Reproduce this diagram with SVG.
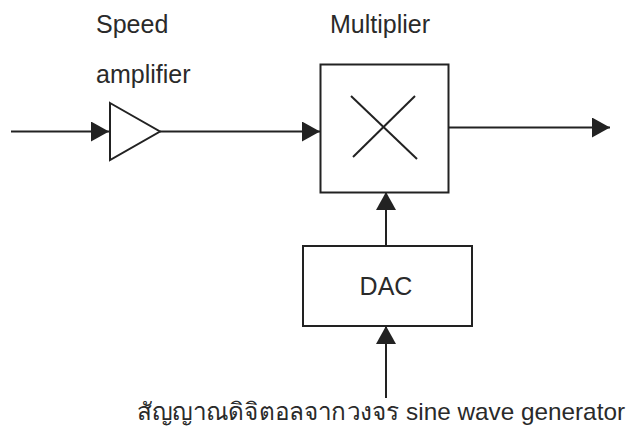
<svg xmlns="http://www.w3.org/2000/svg" width="635" height="433" viewBox="0 0 635 433">
<defs>
<style>
.ln{stroke:#222;stroke-width:2;fill:none}
.bx{stroke:#222;stroke-width:2;fill:#fff}
.t{font-family:"Liberation Sans",Arial,sans-serif;font-size:25px;fill:#2a2a2a}
.s{font-size:24px}
</style>
<marker id="ah" markerUnits="userSpaceOnUse" markerWidth="19" markerHeight="20" refX="18" refY="10" orient="auto" viewBox="0 0 19 20">
<path d="M0,0 L18,10 L0,20 Z" fill="#222"/>
</marker>
</defs>
<rect width="635" height="433" fill="#fff"/>
<g id="connectors">
<line class="ln" x1="11" y1="131.5" x2="109" y2="131.5" marker-end="url(#ah)"/>
<line class="ln" x1="160" y1="131.5" x2="320" y2="131.5" marker-end="url(#ah)"/>
<line class="ln" x1="448" y1="127.5" x2="610" y2="127.5" marker-end="url(#ah)"/>
<line class="ln" x1="386" y1="246" x2="386" y2="192" marker-end="url(#ah)"/>
<line class="ln" x1="386" y1="398" x2="386" y2="326" marker-end="url(#ah)"/>
</g>
<g id="amplifier">
<polygon class="bx" points="110,103 160,131.5 110,160"/>
<text class="t" x="96" y="33">Speed</text>
<text class="t" x="96" y="83">amplifier</text>
</g>
<g id="multiplier">
<rect class="bx" x="320.5" y="64.5" width="128" height="128"/>
<line class="ln" x1="351" y1="96" x2="417" y2="159"/>
<line class="ln" x1="415" y1="96" x2="353" y2="157"/>
<text class="t" x="330" y="33">Multiplier</text>
</g>
<g id="dac">
<rect class="bx" x="303" y="246" width="169" height="80"/>
<text class="t" x="386" y="295" text-anchor="middle">DAC</text>
</g>
<g id="source">
<text class="t s" x="137" y="420" textLength="488" lengthAdjust="spacingAndGlyphs">สัญญาณดิจิตอลจากวงจร sine wave generator</text>
</g>
</svg>
